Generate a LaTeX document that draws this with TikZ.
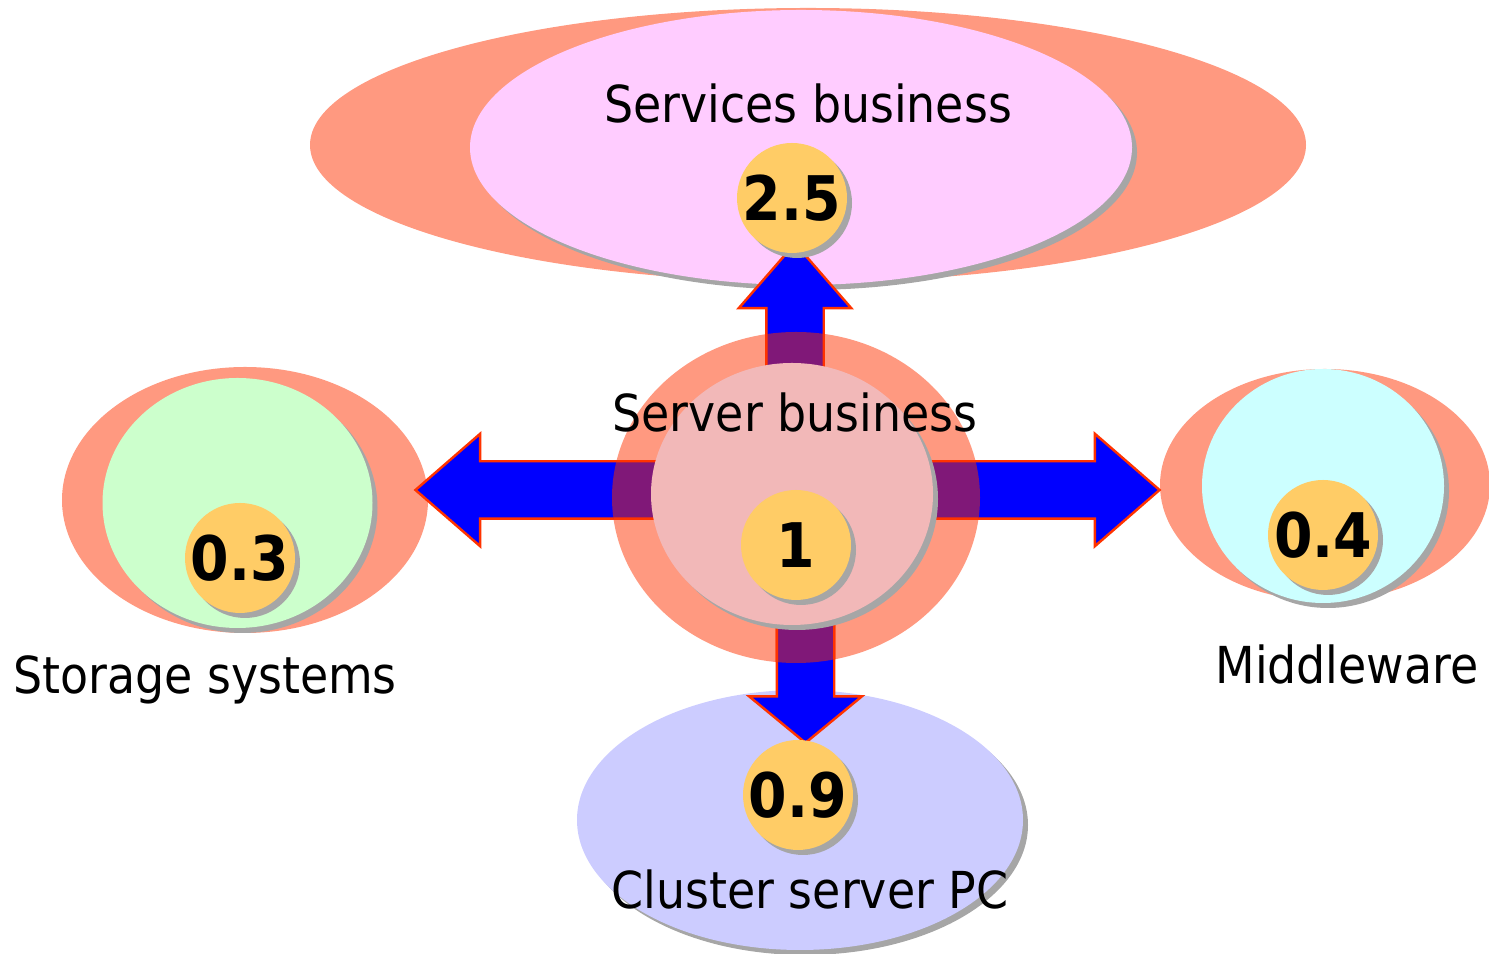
\documentclass[tikz,border=0pt]{standalone}
\usepackage{fontspec}
\setmainfont{DejaVu Sans Condensed}
\usepackage{tikz}
\usetikzlibrary{positioning, shapes.geometric, shapes.arrows, shadows}
\definecolor{haloSalmon}{HTML}{FF9980}
\definecolor{svcPink}{HTML}{FFCCFF}
\definecolor{coreRose}{HTML}{F2B8B8}
\definecolor{storGreen}{HTML}{CCFFCC}
\definecolor{midCyan}{HTML}{CCFFFF}
\definecolor{clusLav}{HTML}{CCCCFF}
\definecolor{badgeGold}{HTML}{FFCC66}
\definecolor{shadeGray}{HTML}{A6A6A6}
\definecolor{arrBlue}{HTML}{0000FF}
\definecolor{arrRed}{HTML}{FF3300}
\definecolor{arrPurple}{HTML}{801878}

\begin{document}
\begin{tikzpicture}[
  halo/.style={ellipse, fill=haloSalmon, inner sep=0pt},
  area/.style={ellipse, inner sep=0pt,
    drop shadow={shadow xshift=0.05cm, shadow yshift=-0.05cm, fill=shadeGray, opacity=1}},
  badge/.style={circle, fill=badgeGold, inner sep=0pt, minimum size=1.1cm,
    font=\fontsize{17.5}{20}\selectfont\bfseries,
    drop shadow={shadow xshift=0.05cm, shadow yshift=-0.05cm, fill=shadeGray, opacity=1}},
  lbl/.style={inner sep=0pt, font=\fontsize{14.5}{17}\selectfont},
  barrow/.style={single arrow, draw=arrRed, line width=0.7pt, fill=arrBlue,
    inner xsep=0pt, inner ysep=0.275cm, single arrow head extend=0.275cm}]

\useasboundingbox (0,0) rectangle (14.89,-9.54);

% outer halos and areas
\node[halo, minimum width=9.96cm, minimum height=2.74cm] (svcHalo) at (8.08,-1.45) {};
\node[area, fill=svcPink, minimum width=6.62cm, minimum height=2.75cm] (svc) at (8.01,-1.475) {};
\node[halo, minimum width=3.66cm, minimum height=2.66cm] (storHalo) at (2.45,-5.0) {};
\node[area, fill=storGreen, minimum width=2.70cm, minimum height=2.50cm] (stor) at (2.375,-5.03) {};
\node[halo, minimum width=3.30cm, minimum height=2.32cm] (midHalo) at (13.25,-4.85) {};
\node[area, fill=midCyan, minimum width=2.42cm, minimum height=2.34cm] (mid) at (13.23,-4.86) {};
\node[area, fill=clusLav, minimum width=4.46cm, minimum height=2.60cm] (clus) at (8.0,-8.2) {};
\node[halo, minimum width=3.68cm, minimum height=3.31cm] (coreHalo) at (7.96,-4.975) {};

% block arrows out of the server core
\node[barrow, minimum height=1.45cm, rotate=90, single arrow tip angle=82] (upArr) at (7.95,-3.325) {};
\node[barrow, minimum height=2.53cm, rotate=180, single arrow tip angle=82] (leftArr) at (5.585,-4.90) {};
\node[barrow, minimum height=2.38cm, single arrow tip angle=82] (rightArr) at (10.24,-4.90) {};
\node[barrow, minimum height=1.28cm, rotate=270, single arrow tip angle=101] (downArr) at (8.055,-6.67) {};

\begin{scope}
  \clip (coreHalo.center) ellipse [x radius=1.84cm, y radius=1.655cm];
  \node[barrow, fill=arrPurple, minimum height=1.45cm, rotate=90, single arrow tip angle=82] at (upArr) {};
  \node[barrow, fill=arrPurple, minimum height=2.53cm, rotate=180, single arrow tip angle=82] at (leftArr) {};
  \node[barrow, fill=arrPurple, minimum height=2.38cm, single arrow tip angle=82] at (rightArr) {};
  \node[barrow, fill=arrPurple, minimum height=1.28cm, rotate=270, single arrow tip angle=101] at (downArr) {};
\end{scope}

\node[area, fill=coreRose, minimum width=2.82cm, minimum height=2.62cm] (core) at (7.92,-4.94) {};

% values
\node[badge] (svcVal)  at (7.92,-1.98) {2.5};
\node[badge] (coreVal) at (7.96,-5.45) {1};
\node[badge] (storVal) at (2.40,-5.58) {0.3};
\node[badge] (midVal)  at (13.23,-5.35) {0.4};
\node[badge] (clusVal) at (7.98,-7.95) {0.9};

% labels
\node[lbl] (svcLbl)  at (8.08,-1.04) {Services business};
\node[lbl] (coreLbl) at (7.95,-4.13) {Server business};
\node[lbl] (storLbl) at (2.05,-6.80) {Storage systems};
\node[lbl] (midLbl)  at (13.47,-6.65) {Middleware};
\node[lbl] (clusLbl) at (8.10,-8.90) {Cluster server PC};

\end{tikzpicture}
\end{document}
